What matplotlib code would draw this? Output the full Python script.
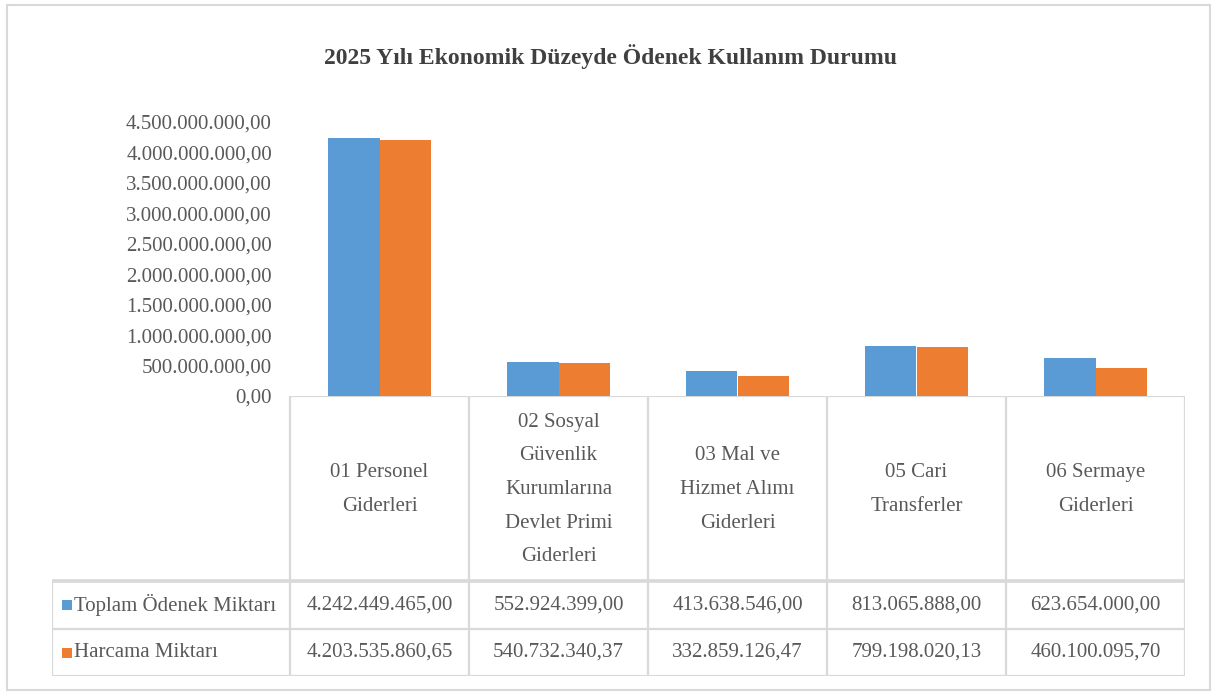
import numpy as np
from matplotlib import pyplot as plt
from matplotlib.patches import Rectangle

plt.rcParams['font.family'] = ['Liberation Serif', 'DejaVu Serif']

title = '2025 Yılı Ekonomik Düzeyde Ödenek Kullanım Durumu'
categories = ['01 Personel\nGiderleri',
              '02 Sosyal\nGüvenlik\nKurumlarına\nDevlet Primi\nGiderleri',
              '03 Mal ve\nHizmet Alımı\nGiderleri',
              '05 Cari\nTransferler',
              '06 Sermaye\nGiderleri']
series_names = ['Toplam Ödenek Miktarı', 'Harcama Miktarı']
toplam = [4242449465.00, 552924399.00, 413638546.00, 813065888.00, 623654000.00]
harcama = [4203535860.65, 540732340.37, 332859126.47, 799198020.13, 460100095.70]
yticks = np.arange(0, 4.5e9 + 1, 5e8)

colors = ['#5B9BD5', '#ED7D31']
txt = '#595959'
grid = '#d9d9d9'
W, H = 1213, 693


def tr(v):
    s = '{:,.2f}'.format(v)
    return s.replace(',', '#').replace('.', ',').replace('#', '.')


def fx(px):
    return px / W


def fy(py):
    return 1 - py / H


fig = plt.figure(figsize=(W / 100, H / 100), dpi=100)

# outer frame
fig.patches.append(Rectangle((fx(7), fy(690)), fx(1210) - fx(7), fy(5) - fy(690),
                             transform=fig.transFigure, fill=False,
                             edgecolor=grid, lw=1.5))

fig.text(fx(611), fy(57), title, ha='center', va='center', fontsize=17,
         fontweight='bold', color='#404040')

# bar axes
left, right, zero, top = 290, 1185, 396, 122
ax = fig.add_axes([fx(left), fy(zero), fx(right) - fx(left), fy(top) - fy(zero)])
x = np.arange(len(categories))
bw = 0.29
ax.bar(x - bw / 2, toplam, bw, color=colors[0])
ax.bar(x + bw / 2, harcama, bw, color=colors[1])
ax.set_xlim(-0.5, len(categories) - 0.5)
ax.set_ylim(0, 4.5e9)
ax.set_yticks(yticks)
ax.set_yticklabels([tr(v) for v in yticks], fontsize=15, color=txt)
ax.tick_params(axis='y', length=0, pad=13)
ax.set_xticks([])
for s in ax.spines.values():
    s.set_visible(False)

# data table axes
unit = (right - left) / len(categories)
tleft = 52
tab = fig.add_axes([fx(tleft), fy(676), fx(right) - fx(tleft), fy(zero) - fy(676)])
tab.set_xlim(-0.5 - (left - tleft) / unit, len(categories) - 0.5)
tab.set_ylim(676, zero)
tab.axis('off')
r1, r2, bot = 581, 629, 676
lx = -0.5 - (left - tleft) / unit
kw = dict(color=grid, lw=1.6, solid_capstyle='butt')
tab.plot([-0.5, len(categories) - 0.5], [zero, zero], **kw)
for yy in [r1, r2, bot]:
    tab.plot([lx, len(categories) - 0.5], [yy, yy], **kw)
tab.plot([lx, len(categories) - 0.5], [r1, r1], color=grid, lw=2.6,
         solid_capstyle='butt')
tab.plot([lx, lx], [r1, bot], **kw)
for i in range(len(categories) + 1):
    tab.plot([i - 0.5, i - 0.5], [zero, bot], **kw)

for i, c in enumerate(categories):
    tab.text(i, (zero + r1) / 2 + 1, c, ha='center', va='center', fontsize=15,
             color=txt, linespacing=2.05)
    tab.text(i, (r1 + r2) / 2, tr(toplam[i]), ha='center', va='center',
             fontsize=15, color=txt)
    tab.text(i, (r2 + bot) / 2, tr(harcama[i]), ha='center', va='center',
             fontsize=15, color=txt)

for j, (name, yc) in enumerate(zip(series_names, [(r1 + r2) / 2, (r2 + bot) / 2])):
    tab.add_patch(Rectangle((lx + 10 / unit, yc - 5), 10 / unit, 10,
                            color=colors[j], lw=0))
    tab.text(lx + 22 / unit, yc, name, ha='left', va='center', fontsize=15,
             color=txt)

fig.savefig('out.png', dpi=100)
